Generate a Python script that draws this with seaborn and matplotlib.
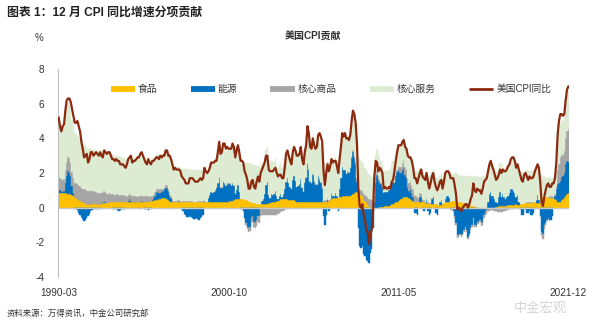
import numpy as np
import pandas as pd
import matplotlib
matplotlib.use("Agg")
import matplotlib.pyplot as plt
from matplotlib.lines import Line2D
import seaborn as sns

# ---------------- data (monthly, 1990-03 .. 2021-12) ----------------
start_month = "1990-03"
end_month = "2021-12"

cpi_yoy = [
    5.2, 4.7, 4.4, 4.7, 4.8, 5.6, 6.2, 6.3, 6.3, 6.1,
    5.7, 5.3, 4.9, 4.9, 5.0, 4.7, 4.4, 3.8, 3.4, 2.9, 3.0, 3.1,
    2.6, 2.8, 3.2, 3.2, 3.0, 3.1, 3.2, 3.1, 3.0, 3.2, 3.0, 2.9,
    3.3, 3.2, 3.1, 3.2, 3.2, 3.0, 2.8, 2.8, 2.7, 2.8, 2.7, 2.7,
    2.5, 2.5, 2.5, 2.4, 2.3, 2.5, 2.8, 2.9, 3.0, 2.6, 2.7, 2.7,
    2.8, 2.9, 2.9, 3.1, 3.2, 3.0, 2.8, 2.6, 2.5, 2.8, 2.6, 2.5,
    2.7, 2.7, 2.8, 2.9, 2.9, 2.8, 3.0, 2.9, 3.0, 3.0, 3.3, 3.3,
    3.0, 3.0, 2.8, 2.5, 2.2, 2.3, 2.2, 2.2, 2.2, 2.1, 1.8, 1.7,
    1.6, 1.4, 1.4, 1.4, 1.7, 1.7, 1.7, 1.6, 1.5, 1.5, 1.5, 1.6,
    1.7, 1.6, 1.7, 2.3, 2.1, 2.0, 2.1, 2.3, 2.6, 2.6, 2.6, 2.7,
    2.7, 3.2, 3.8, 3.1, 3.2, 3.7, 3.7, 3.4, 3.5, 3.4, 3.4, 3.4,
    3.7, 3.5, 2.9, 3.3, 3.6, 3.2, 2.7, 2.7, 2.6, 2.1, 1.9, 1.6,
    1.1, 1.1, 1.5, 1.6, 1.2, 1.1, 1.5, 1.8, 1.5, 2.0, 2.2, 2.4,
    2.6, 3.0, 3.0, 2.2, 2.1, 2.1, 2.1, 2.2, 2.3, 2.0, 1.8, 1.9,
    1.9, 1.7, 1.7, 2.3, 3.1, 3.3, 3.0, 2.7, 2.5, 3.2, 3.5, 3.3,
    3.0, 3.0, 3.1, 3.5, 2.8, 2.5, 3.2, 3.6, 4.7, 4.3, 3.5, 3.4,
    4.0, 3.6, 3.4, 3.5, 4.2, 4.3, 4.1, 3.8, 2.1, 1.3, 2.0, 2.5,
    2.1, 2.4, 2.8, 2.6, 2.7, 2.7, 2.4, 2.0, 2.8, 3.5, 4.3, 4.1,
    4.3, 4.0, 4.0, 3.9, 4.2, 5.0, 5.6, 5.4, 4.9, 3.7, 1.1, 0.1,
    0.0, 0.2, -0.4, -0.7, -1.3, -1.4, -2.1, -1.5, -1.3, -0.2, 1.8, 2.7,
    2.6, 2.1, 2.3, 2.2, 2.0, 1.1, 1.2, 1.1, 1.1, 1.2, 1.1, 1.5,
    1.6, 2.1, 2.7, 3.2, 3.6, 3.6, 3.6, 3.8, 3.9, 3.5, 3.4, 3.0,
    2.9, 2.9, 2.7, 2.3, 1.7, 1.7, 1.4, 1.7, 2.0, 2.2, 1.8, 1.7,
    1.6, 2.0, 1.5, 1.1, 1.4, 1.8, 2.0, 1.5, 1.2, 1.0, 1.2, 1.5,
    1.6, 1.1, 1.5, 2.0, 2.1, 2.1, 2.0, 1.7, 1.7, 1.7, 1.3, 0.8,
    -0.1, 0.0, -0.1, -0.2, 0.0, 0.1, 0.2, 0.2, 0.0, 0.2, 0.5, 0.7,
    1.4, 1.0, 0.9, 1.1, 1.0, 1.0, 0.8, 1.1, 1.5, 1.6, 1.7, 2.1,
    2.5, 2.7, 2.4, 2.2, 1.9, 1.6, 1.7, 1.9, 2.2, 2.0, 2.2, 2.1,
    2.1, 2.2, 2.4, 2.5, 2.8, 2.9, 2.9, 2.7, 2.3, 2.5, 2.2, 1.9,
    1.6, 1.5, 1.9, 2.0, 1.8, 1.6, 1.8, 1.7, 1.7, 1.8, 2.1, 2.3,
    2.5, 2.3, 1.5, 0.3, 0.1, 0.6, 1.0, 1.3, 1.4, 1.2, 1.2, 1.4,
    1.4, 1.7, 2.6, 4.2, 5.0, 5.4, 5.4, 5.3, 5.4, 6.2, 6.8, 7.0,
]

food = [
    0.85, 0.85, 0.85, 0.85, 0.85, 0.85, 0.85, 0.8, 0.8, 0.8,
    0.75, 0.7, 0.6, 0.55, 0.5, 0.45, 0.4, 0.35, 0.3, 0.25, 0.25, 0.2,
    0.15, 0.15, 0.2, 0.2, 0.2, 0.2, 0.2, 0.15, 0.15, 0.2, 0.2, 0.25,
    0.25, 0.25, 0.25, 0.25, 0.3, 0.3, 0.3, 0.3, 0.3, 0.35, 0.35, 0.35,
    0.35, 0.35, 0.35, 0.35, 0.35, 0.35, 0.35, 0.35, 0.3, 0.3, 0.3, 0.3,
    0.3, 0.3, 0.3, 0.3, 0.3, 0.3, 0.35, 0.35, 0.35, 0.35, 0.35, 0.4,
    0.4, 0.4, 0.45, 0.45, 0.45, 0.5, 0.5, 0.55, 0.55, 0.55, 0.55, 0.5,
    0.45, 0.4, 0.35, 0.3, 0.3, 0.3, 0.3, 0.3, 0.3, 0.3, 0.3, 0.3,
    0.3, 0.3, 0.3, 0.3, 0.3, 0.3, 0.3, 0.3, 0.3, 0.3, 0.35, 0.35,
    0.35, 0.35, 0.35, 0.3, 0.3, 0.3, 0.3, 0.3, 0.3, 0.3, 0.3, 0.3,
    0.3, 0.3, 0.3, 0.3, 0.3, 0.35, 0.35, 0.35, 0.35, 0.35, 0.4, 0.4,
    0.4, 0.45, 0.5, 0.5, 0.5, 0.5, 0.5, 0.5, 0.5, 0.5, 0.45, 0.45,
    0.4, 0.35, 0.3, 0.25, 0.25, 0.25, 0.2, 0.2, 0.2, 0.2, 0.2, 0.2,
    0.2, 0.2, 0.2, 0.25, 0.25, 0.3, 0.3, 0.3, 0.35, 0.4, 0.4, 0.45,
    0.5, 0.5, 0.5, 0.5, 0.5, 0.5, 0.45, 0.45, 0.45, 0.45, 0.45, 0.4,
    0.35, 0.35, 0.35, 0.35, 0.35, 0.35, 0.3, 0.3, 0.3, 0.3, 0.3, 0.3,
    0.3, 0.3, 0.3, 0.3, 0.3, 0.3, 0.3, 0.3, 0.3, 0.35, 0.35, 0.35,
    0.4, 0.45, 0.5, 0.55, 0.55, 0.55, 0.55, 0.55, 0.6, 0.6, 0.65, 0.65,
    0.65, 0.65, 0.65, 0.7, 0.7, 0.75, 0.8, 0.85, 0.9, 0.9, 0.9, 0.85,
    0.75, 0.65, 0.5, 0.4, 0.3, 0.2, 0.1, 0.05, 0.0, -0.05, -0.05, -0.05,
    0.0, 0.0, 0.05, 0.05, 0.05, 0.05, 0.1, 0.1, 0.1, 0.1, 0.15, 0.2,
    0.2, 0.25, 0.3, 0.35, 0.4, 0.45, 0.5, 0.55, 0.6, 0.6, 0.6, 0.6,
    0.55, 0.5, 0.45, 0.4, 0.35, 0.35, 0.3, 0.3, 0.3, 0.3, 0.3, 0.3,
    0.25, 0.25, 0.2, 0.2, 0.2, 0.2, 0.2, 0.2, 0.2, 0.2, 0.15, 0.15,
    0.15, 0.2, 0.25, 0.3, 0.35, 0.35, 0.35, 0.35, 0.4, 0.4, 0.4, 0.45,
    0.4, 0.35, 0.3, 0.3, 0.25, 0.25, 0.25, 0.2, 0.2, 0.2, 0.15, 0.1,
    0.1, 0.1, 0.05, 0.05, 0.0, 0.0, 0.0, -0.05, -0.05, -0.05, -0.05, -0.05,
    -0.05, -0.05, 0.0, 0.0, 0.0, 0.05, 0.05, 0.1, 0.1, 0.1, 0.1, 0.1,
    0.1, 0.1, 0.15, 0.15, 0.15, 0.15, 0.15, 0.15, 0.2, 0.15, 0.15, 0.2,
    0.2, 0.2, 0.25, 0.25, 0.25, 0.25, 0.25, 0.25, 0.25, 0.3, 0.3, 0.25,
    0.25, 0.25, 0.25, 0.45, 0.6, 0.65, 0.6, 0.6, 0.55, 0.55, 0.55, 0.55,
    0.5, 0.5, 0.45, 0.35, 0.3, 0.35, 0.45, 0.5, 0.6, 0.7, 0.8, 0.85,
]

energy = [
    0.25, 0.15, 0.1, 0.05, 0.1, 0.6, 1.0, 1.3, 1.2, 1.0,
    0.5, 0.15, -0.05, -0.1, -0.15, -0.3, -0.4, -0.55, -0.65, -0.75, -0.7, -0.6,
    -0.5, -0.35, -0.2, -0.15, -0.1, -0.05, -0.05, -0.1, -0.1, -0.05, 0.05, 0.0,
    0.1, 0.05, 0.0, 0.0, 0.05, 0.0, -0.05, -0.1, -0.1, -0.05, -0.15, -0.2,
    -0.15, -0.1, -0.1, -0.1, -0.05, 0.0, 0.05, 0.15, 0.1, -0.05, 0.05, 0.05,
    0.05, 0.0, -0.05, 0.05, 0.1, 0.05, -0.05, -0.1, -0.1, -0.15, -0.1, -0.05,
    0.05, 0.15, 0.25, 0.45, 0.45, 0.35, 0.35, 0.35, 0.4, 0.5, 0.6, 0.65,
    0.5, 0.35, 0.2, 0.05, -0.1, 0.0, 0.0, 0.05, 0.05, 0.0, -0.05, -0.2,
    -0.35, -0.45, -0.55, -0.55, -0.5, -0.55, -0.6, -0.65, -0.65, -0.6, -0.65, -0.7,
    -0.6, -0.55, -0.4, 0.1, 0.05, 0.05, 0.25, 0.45, 0.6, 0.55, 0.6, 0.7,
    0.85, 1.1, 1.4, 0.85, 0.85, 1.15, 1.05, 0.9, 1.05, 1.0, 0.95, 0.85,
    1.0, 0.8, 0.3, 0.5, 0.8, 0.4, -0.1, -0.1, -0.2, -0.6, -0.9, -1.1,
    -1.2, -1.1, -0.6, -0.5, -0.8, -0.9, -0.7, -0.5, -0.5, -0.1, 0.2, 0.3,
    0.6, 1.1, 1.3, 0.5, 0.3, 0.5, 0.45, 0.5, 0.6, 0.25, 0.1, 0.2,
    0.3, 0.1, 0.3, 0.6, 1.0, 1.2, 0.95, 0.75, 0.65, 1.15, 1.35, 1.15,
    0.85, 0.9, 1.0, 1.3, 0.8, 0.55, 1.15, 1.4, 2.2, 1.9, 1.2, 1.1,
    1.6, 1.2, 1.0, 1.0, 1.5, 1.3, 1.1, 0.8, -0.5, -1.0, -0.4, 0.1,
    -0.2, 0.0, 0.3, 0.1, 0.1, 0.3, 0.1, -0.2, 0.5, 1.1, 1.7, 1.5,
    1.5, 1.3, 1.4, 1.3, 1.6, 2.1, 2.4, 2.0, 1.6, 0.6, -1.2, -2.2,
    -2.3, -2.2, -2.7, -2.8, -3.0, -3.1, -3.2, -2.6, -2.4, -1.1, 0.3, 1.4,
    1.9, 1.6, 1.4, 1.3, 1.1, 0.8, 0.8, 0.8, 0.8, 0.9, 0.9, 1.1,
    1.3, 1.2, 1.5, 1.7, 1.8, 1.6, 1.5, 1.6, 1.7, 1.3, 1.1, 0.6,
    0.4, 0.6, 0.4, 0.2, -0.3, -0.3, -0.4, 0.0, 0.3, 0.3, -0.1, -0.2,
    -0.1, 0.2, -0.2, -0.4, -0.3, 0.3, 0.4, 0.0, -0.3, -0.4, -0.1, 0.2,
    0.3, 0.0, 0.0, 0.2, 0.3, 0.3, 0.2, -0.1, -0.1, -0.2, -0.5, -0.9,
    -1.6, -1.6, -1.5, -1.6, -1.5, -1.3, -1.1, -1.3, -1.7, -1.5, -1.2, -1.0,
    -0.6, -1.0, -1.0, -0.8, -0.8, -0.7, -0.9, -0.8, -0.4, -0.2, -0.1, 0.3,
    0.8, 0.9, 0.7, 0.7, 0.5, 0.3, 0.2, 0.5, 0.8, 0.5, 0.7, 0.5,
    0.4, 0.5, 0.5, 0.7, 0.9, 0.9, 0.8, 0.7, 0.4, 0.6, 0.2, -0.1,
    -0.4, -0.4, -0.1, -0.1, -0.3, -0.3, -0.2, -0.4, -0.4, -0.3, 0.0, 0.2,
    0.5, 0.2, -0.5, -1.4, -1.5, -1.0, -0.9, -0.7, -0.6, -0.7, -0.7, -0.5,
    0.0, 0.2, 0.6, 1.0, 1.1, 1.2, 1.3, 1.3, 1.4, 1.8, 1.9, 1.8,
]

core_goods = [
    0.7, 0.7, 0.7, 0.7, 0.7, 0.75, 0.8, 0.85, 0.85, 0.8,
    0.8, 0.85, 0.85, 0.85, 0.85, 0.85, 0.85, 0.8, 0.8, 0.8, 0.8, 0.8,
    0.8, 0.8, 0.8, 0.75, 0.75, 0.75, 0.7, 0.7, 0.7, 0.65, 0.65, 0.6,
    0.6, 0.6, 0.6, 0.55, 0.55, 0.5, 0.5, 0.5, 0.45, 0.45, 0.45, 0.4,
    0.4, 0.4, 0.4, 0.4, 0.35, 0.35, 0.35, 0.35, 0.35, 0.35, 0.3, 0.3,
    0.3, 0.3, 0.35, 0.35, 0.35, 0.35, 0.3, 0.3, 0.3, 0.3, 0.25, 0.25,
    0.2, 0.2, 0.2, 0.2, 0.2, 0.2, 0.2, 0.15, 0.15, 0.15, 0.15, 0.15,
    0.15, 0.15, 0.15, 0.15, 0.1, 0.1, 0.1, 0.1, 0.1, 0.1, 0.1, 0.1,
    0.1, 0.1, 0.1, 0.1, 0.1, 0.1, 0.1, 0.05, 0.05, 0.05, 0.05, 0.05,
    0.05, 0.05, 0.05, 0.05, 0.0, 0.0, 0.0, 0.0, 0.0, 0.0, 0.0, 0.0,
    0.05, 0.05, 0.05, 0.05, 0.05, 0.05, 0.05, 0.05, 0.05, 0.05, 0.05, 0.05,
    0.05, 0.05, 0.05, 0.0, 0.0, 0.0, 0.0, 0.0, -0.05, -0.05, -0.1, -0.15,
    -0.2, -0.25, -0.25, -0.3, -0.3, -0.3, -0.35, -0.35, -0.4, -0.4, -0.4, -0.4,
    -0.4, -0.45, -0.4, -0.45, -0.45, -0.45, -0.45, -0.4, -0.4, -0.4, -0.35, -0.3,
    -0.25, -0.2, -0.2, -0.15, -0.1, -0.05, -0.05, 0.0, 0.0, 0.0, 0.0, 0.0,
    0.0, 0.0, 0.0, 0.0, 0.05, 0.05, 0.05, 0.05, 0.05, 0.05, 0.05, 0.05,
    0.05, 0.05, 0.05, 0.05, 0.1, 0.1, 0.1, 0.1, 0.1, 0.1, 0.1, 0.1,
    0.05, 0.05, 0.05, 0.0, 0.0, 0.0, 0.0, 0.0, 0.0, 0.0, 0.0, 0.0,
    0.0, 0.0, 0.05, 0.05, 0.05, 0.1, 0.1, 0.15, 0.2, 0.2, 0.2, 0.2,
    0.25, 0.3, 0.35, 0.35, 0.4, 0.4, 0.4, 0.45, 0.45, 0.45, 0.4, 0.35,
    0.3, 0.25, 0.2, 0.15, 0.1, 0.05, 0.0, 0.0, 0.0, 0.0, 0.0, 0.0,
    0.0, 0.05, 0.1, 0.15, 0.2, 0.3, 0.35, 0.4, 0.45, 0.45, 0.45, 0.5,
    0.5, 0.45, 0.45, 0.45, 0.4, 0.35, 0.3, 0.25, 0.25, 0.2, 0.2, 0.15,
    0.1, 0.1, 0.1, 0.05, 0.05, 0.05, 0.05, 0.0, 0.0, 0.0, 0.0, 0.0,
    0.0, 0.0, 0.0, 0.0, 0.0, 0.0, 0.0, -0.05, -0.05, -0.05, -0.1, -0.1,
    -0.15, -0.1, -0.1, -0.1, -0.1, -0.1, -0.1, -0.1, -0.1, -0.1, -0.1, -0.1,
    -0.1, -0.1, -0.1, -0.15, -0.15, -0.15, -0.15, -0.15, -0.15, -0.2, -0.2, -0.15,
    -0.15, -0.1, -0.15, -0.2, -0.2, -0.2, -0.25, -0.25, -0.25, -0.25, -0.25, -0.2,
    -0.2, -0.15, -0.15, -0.1, -0.1, -0.05, -0.05, -0.05, 0.0, -0.05, -0.05, -0.05,
    0.0, 0.0, 0.0, 0.0, 0.05, 0.05, 0.05, 0.05, 0.05, 0.0, -0.05, -0.05,
    -0.05, -0.05, -0.05, -0.2, -0.3, -0.25, -0.1, -0.05, 0.05, 0.1, 0.1, 0.1,
    0.1, 0.1, 0.2, 0.8, 1.1, 1.4, 1.35, 1.25, 1.25, 1.5, 1.7, 1.9,
]

core_services = [
    3.0, 3.0, 3.0, 3.0, 3.0, 3.05, 3.1, 3.1, 3.1, 3.05,
    3.0, 2.95, 2.9, 2.85, 2.8, 2.75, 2.7, 2.65, 2.6, 2.55, 2.5, 2.45,
    2.45, 2.45, 2.45, 2.4, 2.4, 2.4, 2.4, 2.4, 2.35, 2.35, 2.35, 2.35,
    2.35, 2.35, 2.3, 2.3, 2.3, 2.3, 2.25, 2.25, 2.25, 2.2, 2.2, 2.2,
    2.15, 2.15, 2.1, 2.1, 2.1, 2.1, 2.1, 2.1, 2.1, 2.1, 2.1, 2.1,
    2.15, 2.15, 2.2, 2.2, 2.2, 2.2, 2.2, 2.15, 2.1, 2.1, 2.1, 2.05,
    2.05, 2.05, 2.0, 2.0, 2.0, 2.0, 2.0, 2.0, 2.0, 2.0, 2.0, 2.0,
    2.0, 2.0, 2.0, 1.95, 1.95, 1.95, 1.9, 1.9, 1.9, 1.9, 1.85, 1.85,
    1.85, 1.85, 1.85, 1.85, 1.85, 1.8, 1.8, 1.8, 1.8, 1.8, 1.8, 1.8,
    1.8, 1.8, 1.8, 1.8, 1.8, 1.75, 1.75, 1.75, 1.75, 1.75, 1.75, 1.75,
    1.8, 1.8, 1.8, 1.85, 1.85, 1.85, 1.9, 1.9, 1.9, 1.95, 1.95, 1.95,
    2.0, 2.0, 2.0, 2.05, 2.05, 2.05, 2.1, 2.1, 2.1, 2.1, 2.15, 2.15,
    2.2, 2.2, 2.2, 2.2, 2.2, 2.2, 2.2, 2.2, 2.15, 2.15, 2.1, 2.1,
    2.05, 2.05, 2.0, 1.95, 1.95, 1.9, 1.9, 1.85, 1.85, 1.8, 1.8, 1.75,
    1.75, 1.7, 1.7, 1.7, 1.7, 1.7, 1.7, 1.7, 1.7, 1.75, 1.75, 1.75,
    1.8, 1.8, 1.8, 1.85, 1.85, 1.85, 1.9, 1.9, 1.9, 1.95, 1.95, 1.95,
    2.0, 2.0, 2.0, 2.05, 2.05, 2.1, 2.1, 2.1, 2.15, 2.15, 2.15, 2.15,
    2.1, 2.1, 2.1, 2.1, 2.05, 2.05, 2.05, 2.0, 2.0, 2.0, 2.0, 2.0,
    2.0, 2.0, 1.95, 1.95, 1.95, 1.95, 1.9, 1.9, 1.85, 1.85, 1.8, 1.75,
    1.7, 1.65, 1.6, 1.55, 1.5, 1.45, 1.4, 1.35, 1.3, 1.3, 1.25, 1.25,
    1.2, 1.2, 1.2, 1.2, 1.2, 1.2, 1.2, 1.2, 1.2, 1.2, 1.2, 1.2,
    1.2, 1.2, 1.2, 1.2, 1.25, 1.25, 1.25, 1.3, 1.3, 1.3, 1.3, 1.35,
    1.35, 1.4, 1.4, 1.4, 1.4, 1.4, 1.45, 1.45, 1.45, 1.45, 1.45, 1.45,
    1.45, 1.5, 1.5, 1.5, 1.5, 1.5, 1.5, 1.5, 1.5, 1.5, 1.5, 1.5,
    1.5, 1.5, 1.5, 1.55, 1.55, 1.55, 1.55, 1.55, 1.55, 1.55, 1.55, 1.55,
    1.55, 1.55, 1.55, 1.6, 1.6, 1.6, 1.6, 1.6, 1.6, 1.65, 1.65, 1.65,
    1.7, 1.7, 1.7, 1.75, 1.75, 1.75, 1.75, 1.8, 1.8, 1.8, 1.8, 1.8,
    1.8, 1.8, 1.75, 1.75, 1.75, 1.7, 1.7, 1.7, 1.7, 1.7, 1.7, 1.7,
    1.75, 1.75, 1.75, 1.8, 1.8, 1.85, 1.85, 1.85, 1.85, 1.85, 1.85, 1.85,
    1.85, 1.85, 1.85, 1.85, 1.85, 1.8, 1.8, 1.8, 1.8, 1.8, 1.85, 1.85,
    1.85, 1.85, 1.7, 1.4, 1.25, 1.15, 1.1, 1.1, 1.1, 1.1, 1.05, 1.05,
    1.0, 1.05, 1.1, 1.4, 1.7, 1.85, 1.9, 1.95, 2.0, 2.05, 2.1, 2.2,
]

component_names = ["食品", "能源", "核心商品", "核心服务"]
line_name = "美国CPI同比"
xtick_labels = ["1990-03", "2000-10", "2011-05", "2021-12"]
ytick_values = [-4, -2, 0, 2, 4, 6, 8]

# ---------------- styling ----------------
component_colors = ["#FFC000", "#0070C0", "#A5A5A5", "#DDEBD3"]
line_color = "#8C2A10"
text_color = "#333333"

sns.set_theme(style="white")
plt.rcParams["font.family"] = ["Liberation Sans", "Noto Sans CJK SC", "DejaVu Sans"]

dates = pd.date_range(start_month, end_month, freq="MS")
series = [food, energy, core_goods, core_services]
for s in series + [cpi_yoy]:
    assert len(s) == len(dates), (len(s), len(dates))

df = pd.DataFrame({"date": dates, "cpi": cpi_yoy})
df["idx"] = np.arange(len(df))
for name, vals in zip(component_names, series):
    df[name] = vals

fig = plt.figure(figsize=(6.0, 3.26), dpi=100)
W, H = 600.0, 326.0
ax = fig.add_axes([58 / W, 1 - 277 / H, (569 - 58) / W, (277 - 69) / H])

pos_base = np.zeros(len(df))
neg_base = np.zeros(len(df))
xi = df["idx"].to_numpy()
for name, col in zip(component_names, component_colors):
    v = df[name].to_numpy(dtype=float)
    pm = v > 0
    nm = v < 0
    ax.bar(xi[pm], v[pm], bottom=pos_base[pm], width=1.0, color=col,
           edgecolor=col, linewidth=0.3, zorder=2)
    ax.bar(xi[nm], v[nm], bottom=neg_base[nm], width=1.0, color=col,
           edgecolor=col, linewidth=0.3, zorder=2)
    pos_base = pos_base + np.where(pm, v, 0)
    neg_base = neg_base + np.where(nm, v, 0)

ax.axhline(0, color="#C8C8C8", lw=1.0, zorder=3)

sns.lineplot(data=df, x="idx", y="cpi", ax=ax, color=line_color, lw=1.6,
             zorder=4, legend=False)

ax.set_xlim(-0.5, len(df) - 0.5)
ax.set_ylim(-4, 8)
ax.set_yticks(ytick_values)
ax.set_yticklabels([str(v) for v in ytick_values], fontsize=7.2, color=text_color)
xt_pos = [int(df.index[df["date"] == pd.Timestamp(lbl + "-01")][0]) for lbl in xtick_labels]
ax.set_xticks(xt_pos)
ax.set_xticklabels(xtick_labels, fontsize=7.2, color=text_color)
ax.tick_params(axis="x", length=0, pad=8)
ax.tick_params(axis="y", direction="in", length=3, width=0.8, color="#BFBFBF", pad=10)
ax.set_xlabel("")
ax.set_ylabel("")
for sp in ["top", "right", "bottom"]:
    ax.spines[sp].set_visible(False)
ax.spines["left"].set_color("#BFBFBF")
ax.spines["left"].set_linewidth(0.8)
ax.grid(False)

# legend
handles = [Line2D([], [], color=c, lw=4.2, solid_capstyle="butt") for c in component_colors]
handles.append(Line2D([], [], color=line_color, lw=2.0, solid_capstyle="butt"))
fig.legend(handles, component_names + [line_name], loc="center",
           bbox_to_anchor=(331 / W, 1 - 89 / H), ncol=5, frameon=False,
           fontsize=7, handlelength=2.5, handletextpad=0.3, columnspacing=3.4,
           labelcolor=text_color)

# texts
fig.text(7 / W, 1 - 13 / H, "图表 1：12 月 CPI 同比增速分项贡献", fontsize=8.6,
         fontweight="bold", color="#222222", va="center", ha="left")
fig.text(313 / W, 1 - 37 / H, "美国CPI贡献", fontsize=7.2, fontweight="bold",
         color=text_color, va="center", ha="center")
fig.text(39 / W, 1 - 38 / H, "%", fontsize=7, color=text_color, va="center", ha="center")
fig.text(7 / W, 1 - 314 / H, "资料来源：万得资讯，中金公司研究部", fontsize=6,
         color=text_color, va="center", ha="left")
fig.text(540 / W, 1 - 308 / H, "中金宏观", fontsize=9.5, color="#D5D5D5",
         va="center", ha="center", zorder=0)

fig.savefig("out.png", dpi=100)
